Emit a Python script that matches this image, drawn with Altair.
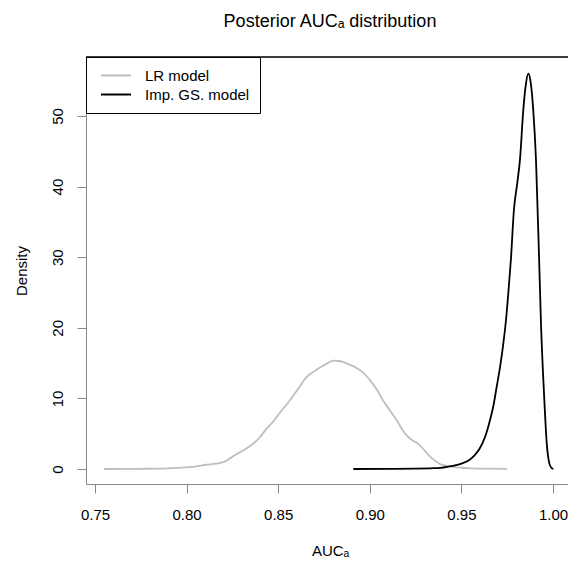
import altair as alt
import pandas as pd

# LR model posterior density (grey)
lr_x = [0.755, 0.765, 0.775, 0.785, 0.790, 0.797, 0.8035, 0.811, 0.816, 0.819,
        0.822, 0.825, 0.830, 0.836, 0.840, 0.843, 0.8475, 0.851, 0.856, 0.861,
        0.8655, 0.870, 0.873, 0.877, 0.880, 0.8835, 0.887, 0.8928, 0.897, 0.900,
        0.904, 0.907, 0.911, 0.9147, 0.918, 0.920, 0.923, 0.9263, 0.930, 0.9329,
        0.936, 0.9383, 0.942, 0.9454, 0.950, 0.955, 0.962, 0.975]
lr_y = [0.0, 0.02, 0.03, 0.06, 0.1, 0.2, 0.3, 0.6, 0.75, 0.9,
        1.2, 1.75, 2.5, 3.5, 4.5, 5.5, 6.8, 8.0, 9.6, 11.4,
        13.0, 13.9, 14.4, 15.0, 15.35, 15.3, 15.0, 14.3, 13.5, 12.6,
        11.2, 9.8, 8.3, 6.9, 5.5, 4.8, 4.1, 3.6, 2.6, 1.75,
        1.1, 0.7, 0.45, 0.3, 0.18, 0.1, 0.04, 0.02]

# Imp. GS. model posterior density (black)
gs_x = [0.891, 0.910, 0.925, 0.933, 0.9383, 0.942, 0.9454, 0.950, 0.9547, 0.957,
        0.960, 0.963, 0.9656, 0.9675, 0.9693, 0.9712, 0.9729, 0.9745, 0.9756, 0.977,
        0.9787, 0.9805, 0.982, 0.9838, 0.9852, 0.9865, 0.9878, 0.9892, 0.9907, 0.9925,
        0.9935, 0.9951, 0.9966, 0.998, 0.9992, 1.0002]
gs_y = [0.0, 0.02, 0.05, 0.1, 0.15, 0.3, 0.45, 0.75, 1.35, 1.9,
        2.9, 4.6, 6.9, 9.0, 11.7, 14.6, 17.8, 21.5, 24.9, 29.6,
        36.8, 40.5, 43.9, 50.9, 54.5, 56.0, 54.8, 50.9, 43.9, 29.0,
        20.2, 10.7, 3.6, 0.8, 0.15, 0.0]

series = ["LR model", "Imp. GS. model"]
colors = ["#BEBEBE", "#000000"]
x_ticks = [0.75, 0.80, 0.85, 0.90, 0.95, 1.00]
y_ticks = [0, 10, 20, 30, 40, 50]

FONT = "Liberation Sans, Arial, Helvetica, DejaVu Sans"
W, H = 482, 427

lr_df = pd.DataFrame({"auc": lr_x, "density": lr_y, "model": series[0]})
gs_df = pd.DataFrame({"auc": gs_x, "density": gs_y, "model": series[1]})

xscale = alt.Scale(domain=[0.74509, 1.00819], nice=False, zero=False)
yscale = alt.Scale(domain=[-2.125, 58.36], nice=False, zero=False)

xaxis = alt.Axis(values=x_ticks, format=".2f", tickSize=9, labelPadding=14,
                 labelFontSize=15, labelBaseline="top", grid=False,
                 title="AUCₐ", titleFontSize=15, titleFontWeight="normal",
                 titleX=244, titleY=71.5, titleBaseline="alphabetic",
                 titleAnchor="middle")
yaxis = alt.Axis(values=y_ticks, tickSize=9, labelPadding=15, labelFontSize=15,
                 labelAngle=270, labelAlign="center", labelBaseline="alphabetic",
                 grid=False, title="Density", titleFontSize=15,
                 titleFontWeight="normal", titleAngle=270, titleX=-60,
                 titleY=H / 2, titleBaseline="alphabetic", titleAlign="center")

color = alt.Color(
    "model:N",
    scale=alt.Scale(domain=series, range=colors),
    legend=alt.Legend(
        title=None, orient="none", legendX=0, legendY=0,
        symbolType="M-2,0H2", symbolSize=225, symbolStrokeWidth=2,
        symbolOffset=11.5, labelOffset=20.5, labelFontSize=15, labelFont=FONT,
        padding=10, rowPadding=2, strokeColor="black", fillColor="white",
    ),
)

lr_line = alt.Chart(lr_df).mark_line(strokeWidth=1.8, interpolate="monotone").encode(
    x=alt.X("auc:Q", scale=xscale, axis=xaxis),
    y=alt.Y("density:Q", scale=yscale, axis=yaxis),
    color=color,
)
gs_line = alt.Chart(gs_df).mark_line(strokeWidth=1.8, interpolate="monotone").encode(
    x=alt.X("auc:Q", scale=xscale, axis=xaxis),
    y=alt.Y("density:Q", scale=yscale, axis=yaxis),
    color=color,
)
top_border = alt.Chart(pd.DataFrame({"k": [0]})).mark_rule(
    color="black", strokeWidth=1.5
).encode(x=alt.value(0), x2=alt.value(W), y=alt.value(0))

chart = alt.layer(lr_line, gs_line, top_border).properties(
    width=W, height=H,
    padding={"left": 86, "top": 57, "right": 0, "bottom": 77},
    autosize="none",
    title=alt.TitleParams(
        text="Posterior AUCₐ distribution", fontSize=18, fontWeight="normal",
        font=FONT, anchor="middle", baseline="alphabetic", offset=11, dx=3,
        color="black",
    ),
).configure_view(stroke=None).configure_axis(
    labelFont=FONT, titleFont=FONT, labelColor="black", titleColor="black",
    domainColor="black", tickColor="black", domainWidth=1.5, tickWidth=1.5,
).configure(background="white")

chart.save("out.html", embed_options={"renderer": "svg", "actions": False})
